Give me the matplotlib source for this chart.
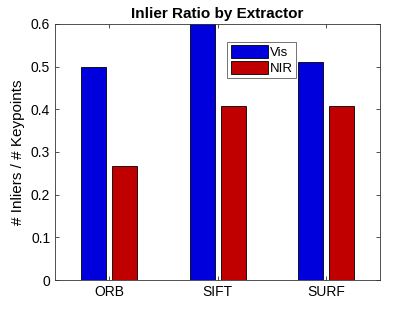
import numpy as np
from matplotlib import pyplot as plt

plt.rcParams['font.family'] = ['Liberation Sans', 'DejaVu Sans']

extractors = ['ORB', 'SIFT', 'SURF']
vis_ratio = [0.500, 0.605, 0.511]
nir_ratio = [0.267, 0.408, 0.408]
y_ticks = [0, 0.1, 0.2, 0.3, 0.4, 0.5, 0.6]
y_tick_labels = ['0', '0.1', '0.2', '0.3', '0.4', '0.5', '0.6']

fig = plt.figure(figsize=(4.2, 3.15), dpi=100)
ax = fig.add_axes([0.131, 0.111, 0.774, 0.813])

x = np.arange(1, len(extractors) + 1)
w = 0.23
off = 0.143
ax.bar(x - off, vis_ratio, w, color='#0000dd', edgecolor='black', linewidth=0.6, label='Vis')
ax.bar(x + off, nir_ratio, w, color='#c00000', edgecolor='black', linewidth=0.6, label='NIR')

ax.set_xlim(0.5, 3.5)
ax.set_ylim(0, 0.6)
ax.set_xticks(x)
ax.set_xticklabels(extractors, fontsize=10)
ax.set_yticks(y_ticks)
ax.set_yticklabels(y_tick_labels, fontsize=10)
ax.tick_params(direction='in', top=True, right=True, length=3, width=0.6, color='#333333')
for s in ax.spines.values():
    s.set_linewidth(0.6)
    s.set_color('#333333')

ax.set_ylabel('# Inliers / # Keypoints', fontsize=11)
ax.set_title('Inlier Ratio by Extractor', fontsize=11, fontweight='bold', pad=4)

leg = ax.legend(loc='upper left', bbox_to_anchor=(0.53, 0.93), fontsize=9.5,
                frameon=True, fancybox=False, edgecolor='#333333',
                handlelength=2.8, handleheight=1.1, handletextpad=0.2,
                borderpad=0.25, labelspacing=0.15, borderaxespad=0)
leg.get_frame().set_linewidth(0.6)

fig.savefig('out.png', dpi=100)
